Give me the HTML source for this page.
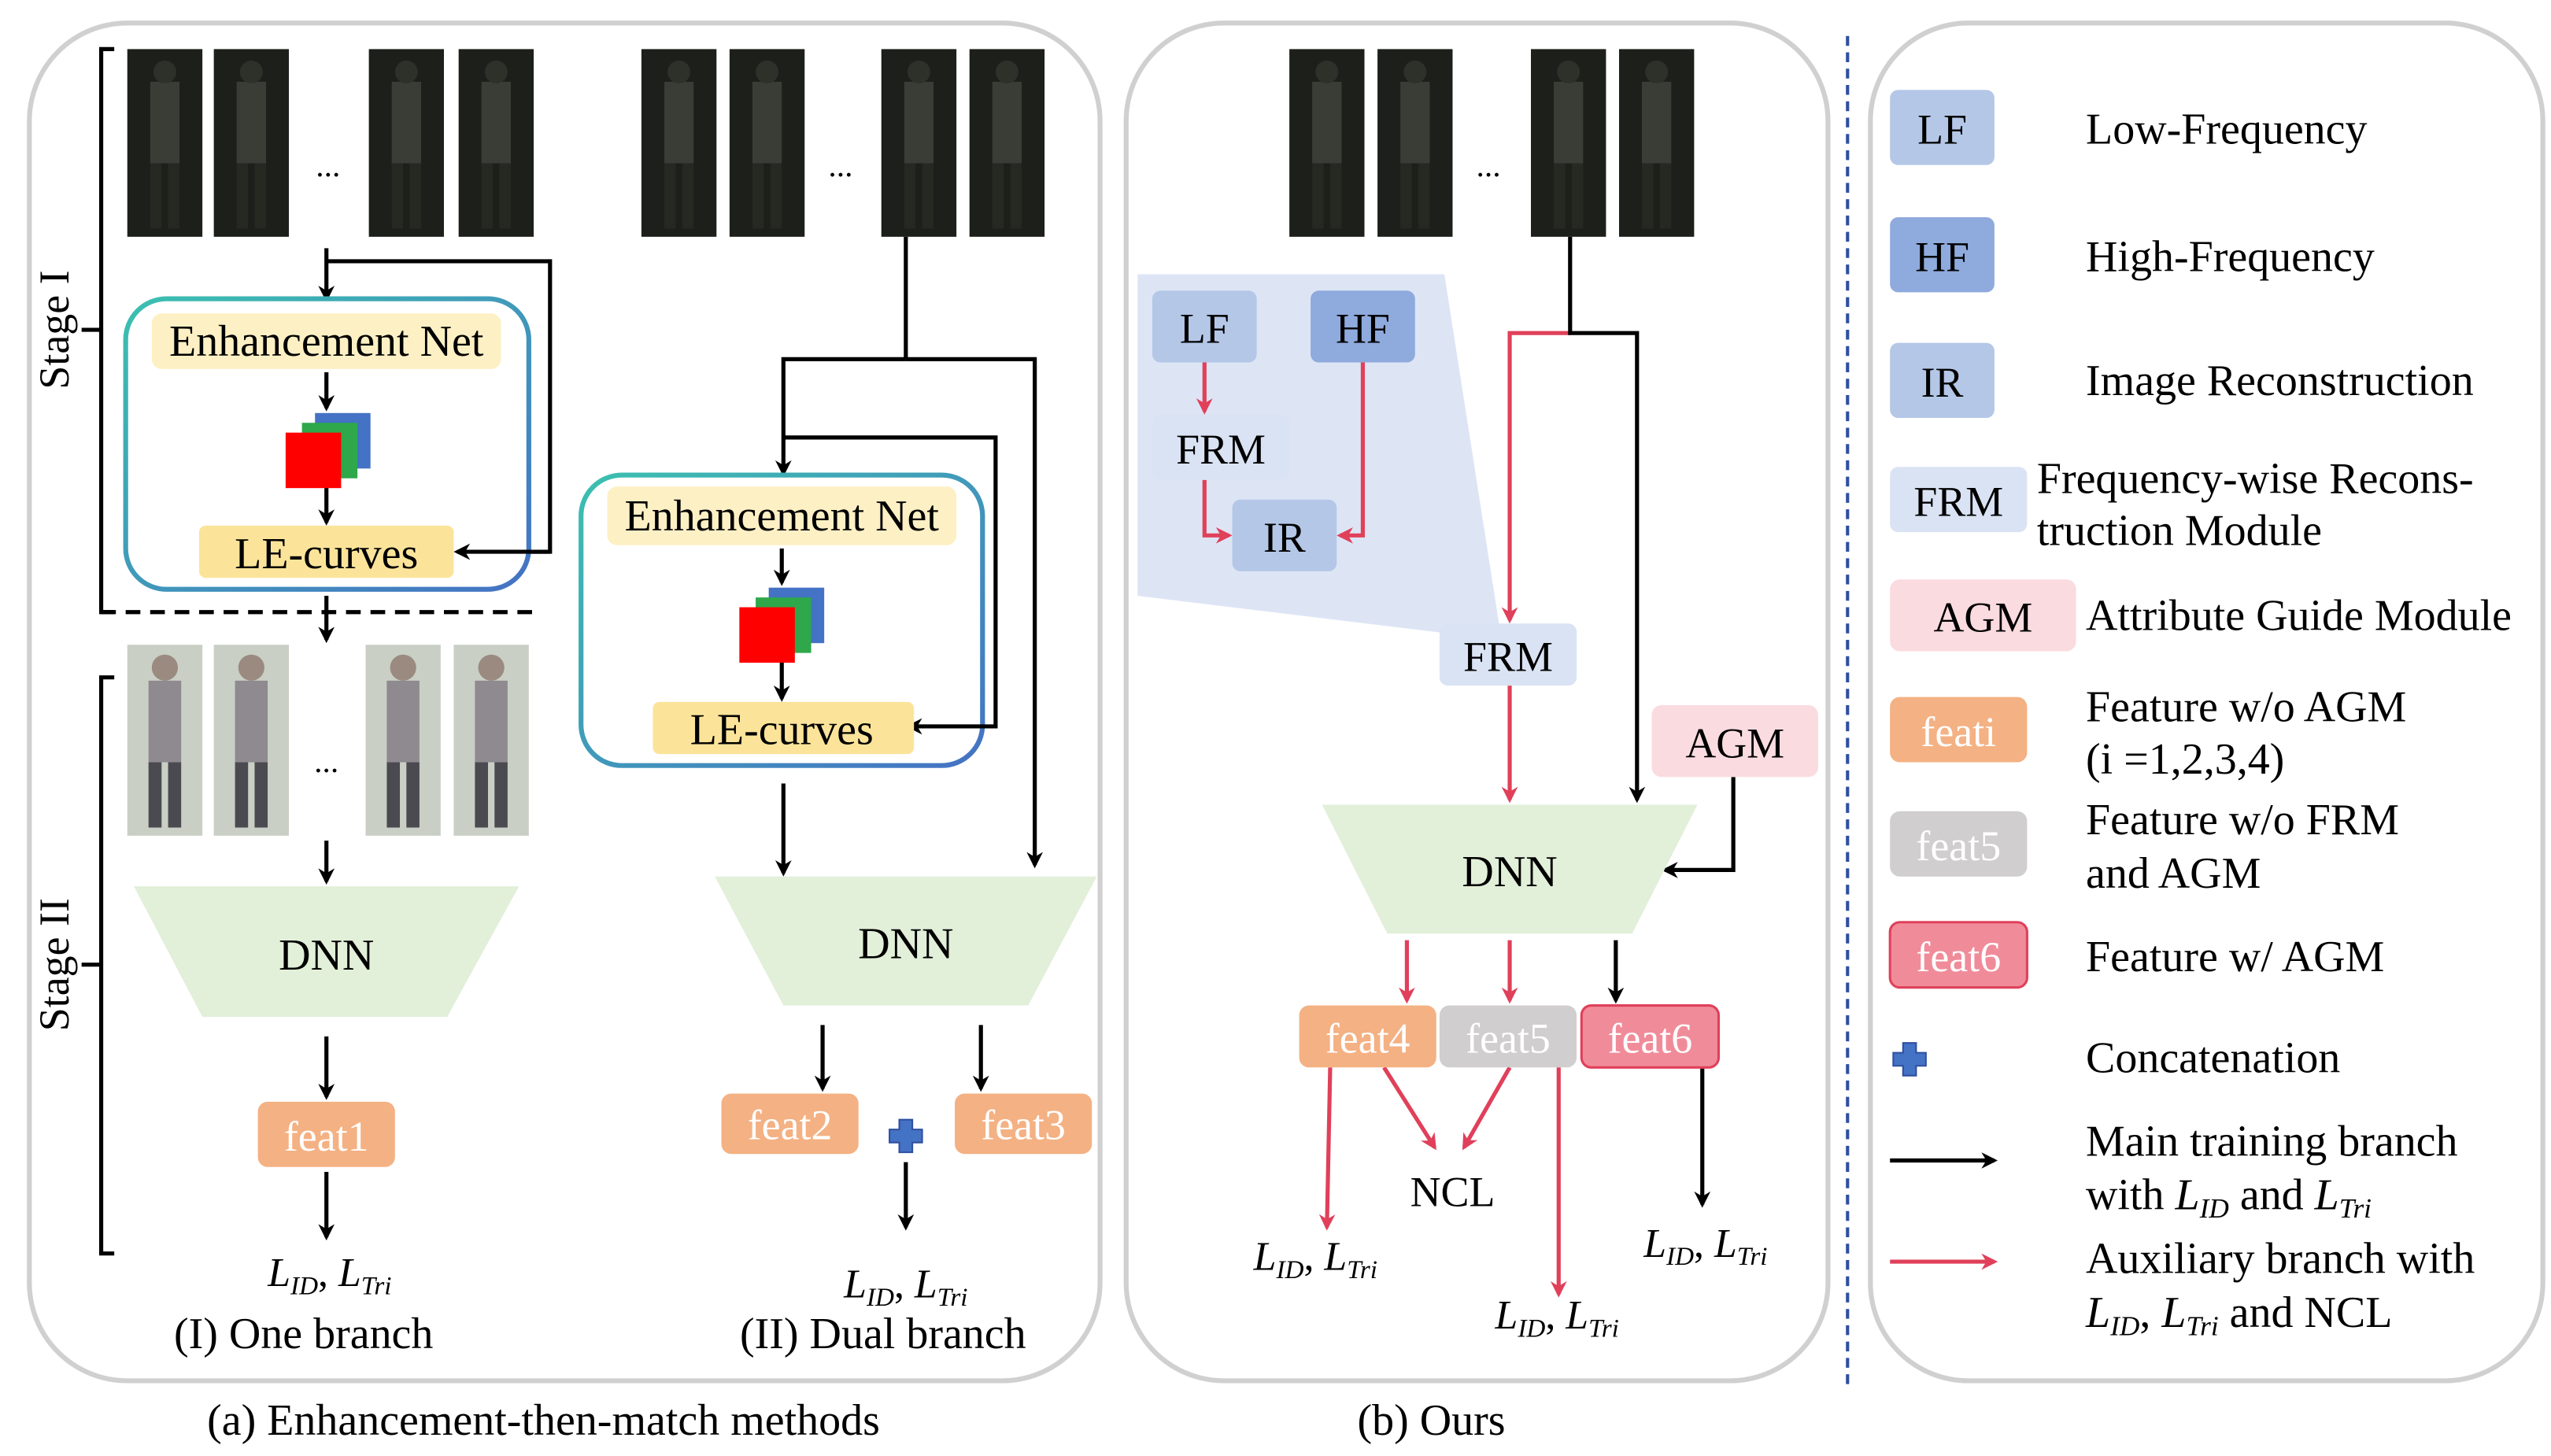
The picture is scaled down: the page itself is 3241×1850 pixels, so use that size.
<!DOCTYPE html>
<html><head><meta charset="utf-8"><style>
html,body{margin:0;padding:0;background:#fff;}
svg{display:block;}
text{font-family:"Liberation Serif",serif;}
</style></head><body>
<svg width="3241" height="1850" viewBox="0 0 1563 892" xmlns="http://www.w3.org/2000/svg">
<defs>
<marker id="ab" markerWidth="10" markerHeight="10" refX="8" refY="5" orient="auto" markerUnits="userSpaceOnUse"><path d="M0,0 L10,5 L0,10 L3,5 z" fill="#000"/></marker>
<marker id="ar" markerWidth="10" markerHeight="10" refX="8" refY="5" orient="auto" markerUnits="userSpaceOnUse"><path d="M0,0 L10,5 L0,10 L3,5 z" fill="#e0405a"/></marker>
<linearGradient id="tg" x1="0" y1="0" x2="1" y2="1"><stop offset="0" stop-color="#3cc0b0"/><stop offset="1" stop-color="#4472c4"/></linearGradient>
<g id="dimg"><rect width="46" height="115" fill="#1c1f1a"/><rect x="14" y="20" width="18" height="50" fill="#3a3d36"/><circle cx="23" cy="14" r="7" fill="#2e302a"/><rect x="14" y="70" width="7" height="40" fill="#262822"/><rect x="25" y="70" width="7" height="40" fill="#262822"/></g>
<g id="limg"><rect width="46" height="117" fill="#c9cfc4"/><rect x="13" y="22" width="20" height="50" fill="#8e8a90"/><circle cx="23" cy="14" r="8" fill="#9a8a80"/><rect x="13" y="72" width="8" height="40" fill="#4a4a50"/><rect x="25" y="72" width="8" height="40" fill="#4a4a50"/></g>
<g id="cube"><rect x="18" y="0" width="34" height="34" fill="#4472c4"/><rect x="10" y="6" width="34" height="34" fill="#2ea84a"/><rect x="0" y="12" width="34" height="34" fill="#ff0000"/></g>
</defs>

<rect x="18" y="14" width="656" height="832" rx="60" fill="none" stroke="#d0d0d0" stroke-width="3"/>
<rect x="690" y="14" width="430" height="832" rx="60" fill="none" stroke="#d0d0d0" stroke-width="3"/>
<rect x="1146" y="14" width="412" height="832" rx="60" fill="none" stroke="#d0d0d0" stroke-width="3"/>
<line x1="1132" y1="22" x2="1132" y2="852" stroke="#2f4f9f" stroke-width="2" stroke-dasharray="6,4"/>
<text x="333" y="879" font-size="27" text-anchor="middle">(a) Enhancement-then-match methods</text>
<text x="877" y="879" font-size="27" text-anchor="middle">(b) Ours</text>

<g stroke="#000" stroke-width="2.5" fill="none">
<path d="M70,30 H62 V375 H70"/><path d="M70,415 H62 V768 H70"/>
<line x1="50" y1="202" x2="62" y2="202"/><line x1="50" y1="591" x2="62" y2="591"/>
</g>
<text transform="translate(42,202) rotate(-90)" font-size="26" text-anchor="middle">Stage I</text>
<text transform="translate(42,591) rotate(-90)" font-size="26" text-anchor="middle">Stage II</text>

<use href="#dimg" x="78" y="30"/><use href="#dimg" x="131" y="30"/><use href="#dimg" x="226" y="30"/><use href="#dimg" x="281" y="30"/>
<text x="201" y="108" font-size="20" text-anchor="middle">...</text>
<g stroke="#000" stroke-width="2.5" fill="none">
<line x1="200" y1="152" x2="200" y2="183" marker-end="url(#ab)"/>
<path d="M200,160 H337 V338 H280" marker-end="url(#ab)"/>
</g>
<rect x="77" y="183" width="247" height="178" rx="25" fill="#fff" stroke="url(#tg)" stroke-width="3"/>
<path d="M337,338 H280" stroke="#000" stroke-width="2.5" marker-end="url(#ab)"/>
<rect x="93" y="192" width="214" height="34" rx="6" fill="#fdf0c4"/>
<text x="200" y="218" font-size="27" text-anchor="middle">Enhancement Net</text>
<use href="#cube" x="175" y="253"/>
<g stroke="#000" stroke-width="2.5"><line x1="200" y1="228" x2="200" y2="250" marker-end="url(#ab)"/><line x1="200" y1="299" x2="200" y2="320" marker-end="url(#ab)"/></g>
<rect x="122" y="322" width="156" height="32" rx="4" fill="#fbe49a"/>
<text x="200" y="348" font-size="27" text-anchor="middle">LE-curves</text>
<line x1="62" y1="375" x2="332" y2="375" stroke="#000" stroke-width="2.5" stroke-dasharray="9,6"/>
<line x1="200" y1="365" x2="200" y2="392" stroke="#000" stroke-width="2.5" marker-end="url(#ab)"/>
<use href="#limg" x="78" y="395"/><use href="#limg" x="131" y="395"/><use href="#limg" x="224" y="395"/><use href="#limg" x="278" y="395"/>
<text x="200" y="473" font-size="20" text-anchor="middle">...</text>
<line x1="200" y1="515" x2="200" y2="540" stroke="#000" stroke-width="2.5" marker-end="url(#ab)"/>
<polygon points="82,543 318,543 274,623 124,623" fill="#e2efd9"/>
<text x="200" y="594" font-size="27" text-anchor="middle">DNN</text>
<line x1="200" y1="635" x2="200" y2="672" stroke="#000" stroke-width="2.5" marker-end="url(#ab)"/>
<rect x="158" y="675" width="84" height="40" rx="6" fill="#f4b183"/>
<text x="200" y="705" font-size="26" fill="#fff" text-anchor="middle">feat1</text>
<line x1="200" y1="718" x2="200" y2="758" stroke="#000" stroke-width="2.5" marker-end="url(#ab)"/>
<text x="202" y="788" font-size="25" text-anchor="middle" font-style="italic">L<tspan font-size="16" dy="5">ID</tspan><tspan dy="-5" font-style="normal">, </tspan>L<tspan font-size="16" dy="5">Tri</tspan></text>
<text x="186" y="826" font-size="27" text-anchor="middle">(I) One branch</text>

<use href="#dimg" x="393" y="30"/><use href="#dimg" x="447" y="30"/><use href="#dimg" x="540" y="30"/><use href="#dimg" x="594" y="30"/>
<text x="515" y="108" font-size="20" text-anchor="middle">...</text>
<g stroke="#000" stroke-width="2.5" fill="none">
<path d="M555,145 V220"/>
<path d="M555,220 H480 V290" marker-end="url(#ab)"/>
<path d="M555,220 H634 V530" marker-end="url(#ab)"/>
</g>
<rect x="356" y="291" width="246" height="178" rx="25" fill="#fff" stroke="url(#tg)" stroke-width="3"/>
<path d="M480,268 H610 V445 H557" stroke="#000" stroke-width="2.5" fill="none" marker-end="url(#ab)"/>
<rect x="372" y="298" width="214" height="36" rx="6" fill="#fdf0c4"/>
<text x="479" y="325" font-size="27" text-anchor="middle">Enhancement Net</text>
<use href="#cube" x="453" y="360"/>
<g stroke="#000" stroke-width="2.5"><line x1="479" y1="336" x2="479" y2="357" marker-end="url(#ab)"/><line x1="479" y1="406" x2="479" y2="428" marker-end="url(#ab)"/></g>
<rect x="400" y="430" width="160" height="32" rx="4" fill="#fbe49a"/>
<text x="479" y="456" font-size="27" text-anchor="middle">LE-curves</text>
<line x1="480" y1="480" x2="480" y2="535" stroke="#000" stroke-width="2.5" marker-end="url(#ab)"/>
<polygon points="438,537 672,537 630,616 480,616" fill="#e2efd9"/>
<text x="555" y="587" font-size="27" text-anchor="middle">DNN</text>
<g stroke="#000" stroke-width="2.5"><line x1="504" y1="628" x2="504" y2="667" marker-end="url(#ab)"/><line x1="601" y1="628" x2="601" y2="667" marker-end="url(#ab)"/><line x1="555" y1="712" x2="555" y2="752" marker-end="url(#ab)"/></g>
<rect x="442" y="670" width="84" height="37" rx="6" fill="#f4b183"/>
<text x="484" y="698" font-size="26" fill="#fff" text-anchor="middle">feat2</text>
<rect x="585" y="670" width="84" height="37" rx="6" fill="#f4b183"/>
<text x="627" y="698" font-size="26" fill="#fff" text-anchor="middle">feat3</text>
<path d="M551,686 h8 v6 h6 v8 h-6 v6 h-8 v-6 h-6 v-8 h6 z" fill="#4472c4" stroke="#2f4f9f"/>
<text x="555" y="795" font-size="25" text-anchor="middle" font-style="italic">L<tspan font-size="16" dy="5">ID</tspan><tspan dy="-5" font-style="normal">, </tspan>L<tspan font-size="16" dy="5">Tri</tspan></text>
<text x="541" y="826" font-size="27" text-anchor="middle">(II) Dual branch</text>

<use href="#dimg" x="790" y="30"/><use href="#dimg" x="844" y="30"/><use href="#dimg" x="938" y="30"/><use href="#dimg" x="992" y="30"/>
<text x="912" y="108" font-size="20" text-anchor="middle">...</text>
<polygon points="697,168 885,168 920,392 697,365" fill="#dde5f5"/>
<rect x="706" y="178" width="64" height="44" rx="5" fill="#b4c7e7"/><text x="738" y="210" font-size="26" text-anchor="middle">LF</text>
<rect x="803" y="178" width="64" height="44" rx="5" fill="#8faadc"/><text x="835" y="210" font-size="26" text-anchor="middle">HF</text>
<rect x="706" y="254" width="84" height="40" rx="5" fill="#dae3f3"/><text x="748" y="284" font-size="26" text-anchor="middle">FRM</text>
<rect x="755" y="306" width="64" height="44" rx="5" fill="#b4c7e7"/><text x="787" y="338" font-size="26" text-anchor="middle">IR</text>
<g stroke="#e0405a" stroke-width="2.5" fill="none">
<line x1="738" y1="222" x2="738" y2="252" marker-end="url(#ar)"/>
<path d="M738,294 V328 H753" marker-end="url(#ar)"/>
<path d="M835,222 V328 H821" marker-end="url(#ar)"/>
<path d="M962,204 H925 V380" marker-end="url(#ar)"/>
<line x1="925" y1="420" x2="925" y2="490" marker-end="url(#ar)"/>
<line x1="862" y1="576" x2="862" y2="613" marker-end="url(#ar)"/>
<line x1="925" y1="576" x2="925" y2="613" marker-end="url(#ar)"/>
<line x1="815" y1="654" x2="813" y2="752" marker-end="url(#ar)"/>
<line x1="848" y1="654" x2="879" y2="703" marker-end="url(#ar)"/>
<line x1="925" y1="654" x2="897" y2="703" marker-end="url(#ar)"/>
<line x1="955" y1="654" x2="955" y2="793" marker-end="url(#ar)"/>
</g>
<g stroke="#000" stroke-width="2.5" fill="none">
<path d="M962,145 V204 H1003 V490" marker-end="url(#ab)"/>
<path d="M1062,476 V533 H1020" marker-end="url(#ab)"/>
<line x1="990" y1="576" x2="990" y2="613" marker-end="url(#ab)"/>
<line x1="1043" y1="654" x2="1043" y2="738" marker-end="url(#ab)"/>
</g>
<rect x="882" y="382" width="84" height="38" rx="5" fill="#dae3f3"/><text x="924" y="411" font-size="26" text-anchor="middle">FRM</text>
<rect x="1012" y="432" width="102" height="44" rx="6" fill="#fadbe0"/><text x="1063" y="464" font-size="26" text-anchor="middle">AGM</text>
<polygon points="810,493 1040,493 1000,572 850,572" fill="#e2efd9"/>
<text x="925" y="543" font-size="27" text-anchor="middle">DNN</text>
<rect x="796" y="616" width="84" height="38" rx="6" fill="#f4b183"/><text x="838" y="645" font-size="26" fill="#fff" text-anchor="middle">feat4</text>
<rect x="882" y="616" width="84" height="38" rx="6" fill="#d0cece"/><text x="924" y="645" font-size="26" fill="#fff" text-anchor="middle">feat5</text>
<rect x="969" y="616" width="84" height="38" rx="6" fill="#f08c9a" stroke="#e0405a" stroke-width="1.5"/><text x="1011" y="645" font-size="26" fill="#fff" text-anchor="middle">feat6</text>
<text x="890" y="739" font-size="26" text-anchor="middle">NCL</text>
<text x="806" y="778" font-size="25" text-anchor="middle" font-style="italic">L<tspan font-size="16" dy="5">ID</tspan><tspan dy="-5" font-style="normal">, </tspan>L<tspan font-size="16" dy="5">Tri</tspan></text>
<text x="954" y="814" font-size="25" text-anchor="middle" font-style="italic">L<tspan font-size="16" dy="5">ID</tspan><tspan dy="-5" font-style="normal">, </tspan>L<tspan font-size="16" dy="5">Tri</tspan></text>
<text x="1045" y="770" font-size="25" text-anchor="middle" font-style="italic">L<tspan font-size="16" dy="5">ID</tspan><tspan dy="-5" font-style="normal">, </tspan>L<tspan font-size="16" dy="5">Tri</tspan></text>

<rect x="1158" y="55" width="64" height="46" rx="5" fill="#b4c7e7"/><text x="1190" y="88" font-size="26" text-anchor="middle">LF</text>
<rect x="1158" y="133" width="64" height="46" rx="5" fill="#8faadc"/><text x="1190" y="166" font-size="26" text-anchor="middle">HF</text>
<rect x="1158" y="210" width="64" height="46" rx="5" fill="#b4c7e7"/><text x="1190" y="243" font-size="26" text-anchor="middle">IR</text>
<rect x="1158" y="286" width="84" height="40" rx="5" fill="#dae3f3"/><text x="1200" y="316" font-size="26" text-anchor="middle">FRM</text>
<rect x="1158" y="355" width="114" height="44" rx="6" fill="#fadbe0"/><text x="1215" y="387" font-size="26" text-anchor="middle">AGM</text>
<rect x="1158" y="427" width="84" height="40" rx="6" fill="#f4b183"/><text x="1200" y="457" font-size="26" fill="#fff" text-anchor="middle">feati</text>
<rect x="1158" y="497" width="84" height="40" rx="6" fill="#d0cece"/><text x="1200" y="527" font-size="26" fill="#fff" text-anchor="middle">feat5</text>
<rect x="1158" y="565" width="84" height="40" rx="6" fill="#f08c9a" stroke="#e0405a" stroke-width="1.5"/><text x="1200" y="595" font-size="26" fill="#fff" text-anchor="middle">feat6</text>
<path d="M1166,639 h8 v6 h6 v8 h-6 v6 h-8 v-6 h-6 v-8 h6 z" fill="#4472c4" stroke="#2f4f9f"/>
<line x1="1158" y1="711" x2="1222" y2="711" stroke="#000" stroke-width="2.5" marker-end="url(#ab)"/>
<line x1="1158" y1="773" x2="1222" y2="773" stroke="#e0405a" stroke-width="2.5" marker-end="url(#ar)"/>
<g font-size="27">
<text x="1278" y="88">Low-Frequency</text>
<text x="1278" y="166">High-Frequency</text>
<text x="1278" y="242">Image Reconstruction</text>
<text x="1248" y="302">Frequency-wise Recons-</text>
<text x="1248" y="334">truction Module</text>
<text x="1278" y="386">Attribute Guide Module</text>
<text x="1278" y="442">Feature w/o AGM</text>
<text x="1278" y="474">(i =1,2,3,4)</text>
<text x="1278" y="511">Feature w/o FRM</text>
<text x="1278" y="544">and AGM</text>
<text x="1278" y="595">Feature w/ AGM</text>
<text x="1278" y="657">Concatenation</text>
<text x="1278" y="708">Main training branch</text>
<text x="1278" y="741">with <tspan font-style="italic">L</tspan><tspan font-size="17" dy="5" font-style="italic">ID</tspan><tspan dy="-5"> and </tspan><tspan font-style="italic">L</tspan><tspan font-size="17" dy="5" font-style="italic">Tri</tspan></text>
<text x="1278" y="780">Auxiliary branch with</text>
<text x="1278" y="813"><tspan font-style="italic">L</tspan><tspan font-size="17" dy="5" font-style="italic">ID</tspan><tspan dy="-5">, </tspan><tspan font-style="italic">L</tspan><tspan font-size="17" dy="5" font-style="italic">Tri</tspan><tspan dy="-5"> and NCL</tspan></text>
</g>
</svg>
</body></html>
